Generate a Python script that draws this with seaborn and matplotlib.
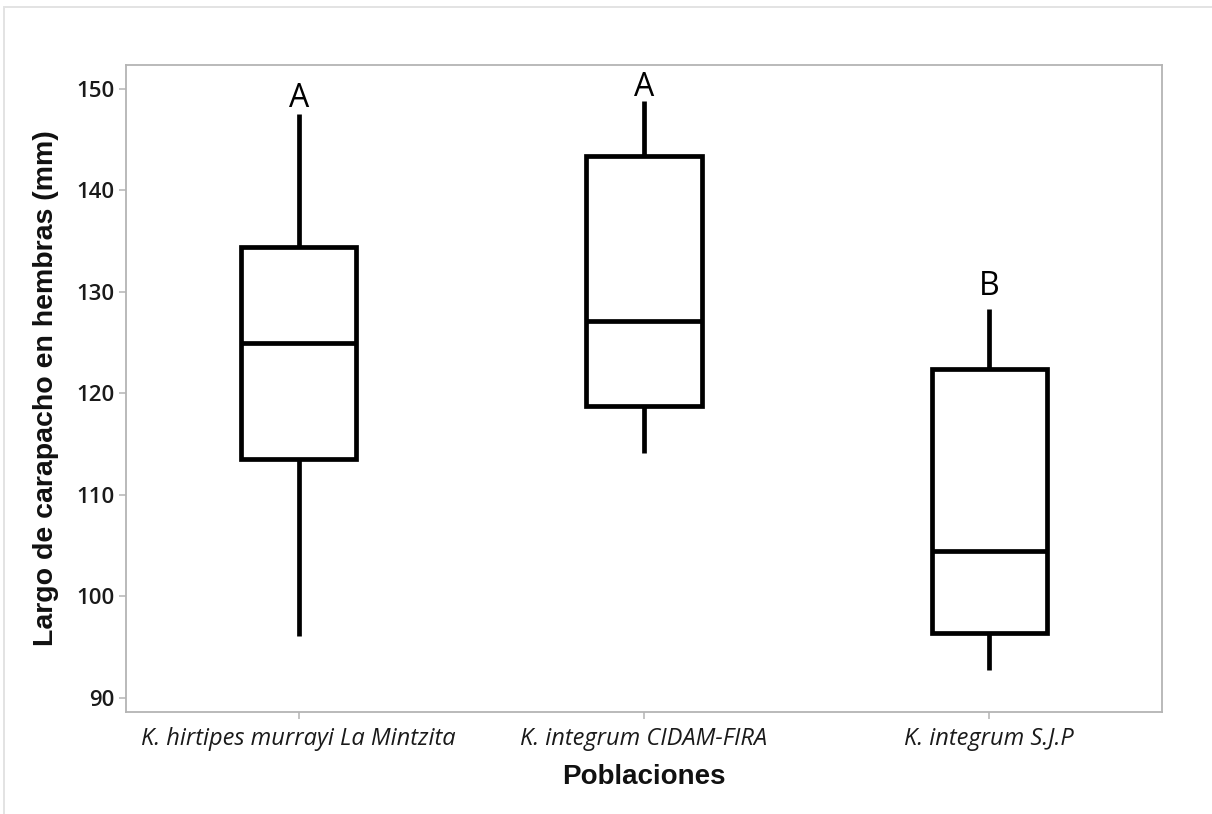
import numpy as np
import pandas as pd
import matplotlib
matplotlib.use("Agg")
import matplotlib.pyplot as plt
from matplotlib.patches import Rectangle
import seaborn as sns

# Populations and five-number summaries of female carapace length (mm)
poblaciones = [
    "K. hirtipes murrayi La Mintzita",
    "K. integrum CIDAM-FIRA",
    "K. integrum S.J.P",
]
bigote_inf = [96.1, 114.1, 92.8]
cuartil_1 = [113.5, 118.8, 96.4]
mediana = [125.0, 127.1, 104.5]
cuartil_3 = [134.4, 143.4, 122.4]
bigote_sup = [147.5, 148.8, 128.3]

# Tukey grouping letters and the height they are written at
letras = ["A", "A", "B"]
letras_y = [149.1, 150.1, 130.5]

filas = []
for i, pob in enumerate(poblaciones):
    for v in (bigote_inf[i], cuartil_1[i], mediana[i], cuartil_3[i], bigote_sup[i]):
        filas.append({"Poblaciones": pob, "Largo": v})
df = pd.DataFrame(filas)

sns.set_theme(style="white")
plt.rcParams["font.family"] = ["Open Sans", "DejaVu Sans"]

fig = plt.figure(figsize=(12.12, 8.14), dpi=100)
ax = fig.add_axes([126 / 1212, 1 - 712 / 814, (1162 - 126) / 1212, (712 - 65) / 814])

sns.boxplot(
    data=df, x="Poblaciones", y="Largo", order=poblaciones, ax=ax,
    color="white", linecolor="black", linewidth=3.4, saturation=1,
    width=0.334, whis=np.inf, showcaps=False,
)

for i, (letra, y) in enumerate(zip(letras, letras_y)):
    ax.text(i, y, letra, ha="center", va="center", fontsize=23,
            family=["Open Sans", "DejaVu Sans"], color="black")

ax.set_xlim(-0.5, 2.5)
ax.set_ylim(88.62, 152.36)
ax.set_yticks([90, 100, 110, 120, 130, 140, 150])

grey = "#b4b4b4"
for s in ax.spines.values():
    s.set_visible(True)
    s.set_color(grey)
    s.set_linewidth(1.3)
ax.tick_params(axis="both", direction="out", length=5, width=1.1, color=grey,
               colors="#1a1a1a", bottom=True, left=True)
ax.tick_params(axis="y", pad=3.5, labelsize=16)
ax.tick_params(axis="x", pad=6, labelsize=17)
for lab in ax.get_yticklabels():
    lab.set_fontweight("semibold")
for lab in ax.get_xticklabels():
    lab.set_fontstyle("italic")

ax.set_xlabel("Poblaciones", fontsize=20, fontweight="bold",
              family=["Liberation Sans", "DejaVu Sans"], labelpad=9, color="#111111")
ax.set_ylabel("Largo de carapacho en hembras (mm)", fontsize=20.5, fontweight="bold",
              family=["Liberation Sans", "DejaVu Sans"], labelpad=12, color="#111111")

# thin outer frame around the graph region
fig.patches.append(Rectangle((4 / 1212, -0.1), 1.2, 1 - 7 / 814 + 0.1,
                             transform=fig.transFigure, fill=False,
                             edgecolor="#e3e3e3", linewidth=1.4))

fig.savefig("out.png", dpi=100)
